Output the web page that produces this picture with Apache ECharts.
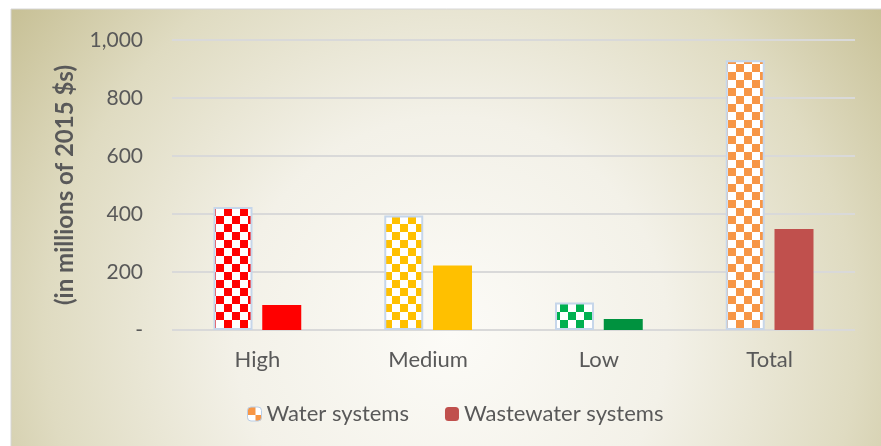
<!DOCTYPE html>
<html>
<head>
<meta charset="utf-8">
<script src="https://cdn.jsdelivr.net/npm/echarts@6/dist/echarts.min.js"></script>
<style>html,body{margin:0;padding:0;background:#fff}#c{width:881px;height:446px}</style>
</head>
<body>
<div id="c"></div>
<script>
var categories = ['High', 'Medium', 'Low', 'Total'];
var waterSystems = [424, 395, 95, 930];
var wastewaterSystems = [86, 222, 38, 348];
var yTickLabels = ['-', '200', '400', '600', '800', '1,000'];
var waterColors = ['#ff0000', '#ffc000', '#00b050', '#f79646'];
var wastewaterColors = ['#ff0000', '#ffc000', '#00923f', '#c0504d'];

function checker(color) {
  var c = document.createElement('canvas');
  c.width = 16; c.height = 16;
  var g = c.getContext('2d');
  g.fillStyle = '#ffffff'; g.fillRect(0, 0, 16, 16);
  g.fillStyle = color;
  g.fillRect(0, 0, 8, 8); g.fillRect(8, 8, 8, 8);
  return { image: c, repeat: 'repeat' };
}

var font = 'Lato';
var chart = echarts.init(document.getElementById('c'));
chart.setOption({
  animation: false,
  graphic: [{
    type: 'rect', z: -10, silent: true,
    shape: { x: 11, y: 9, width: 880, height: 450 },
    style: {
      fill: { type: 'radial', x: 0.5, y: 0.72, r: 1.2, colorStops: [
        { offset: 0, color: '#fcfbf7' },
        { offset: 0.4, color: '#f3f1e8' },
        { offset: 0.75, color: '#dfdbc1' },
        { offset: 1, color: '#c8c197' }
      ] },
      stroke: '#d6d6d6', lineWidth: 1
    }
  }],
  grid: { left: 172, right: 26, top: 40, bottom: 116 },
  legend: {
    bottom: 16, left: 242, itemWidth: 14, itemHeight: 14, itemGap: 36,
    textStyle: { fontFamily: font, fontSize: 22, color: '#595959' },
    data: [
      { name: 'Water systems', itemStyle: { color: checker('#f79646'), borderColor: '#b9cde5', borderWidth: 1 } },
      { name: 'Wastewater systems', itemStyle: { color: '#c0504d' } }
    ]
  },
  xAxis: {
    type: 'category', data: categories,
    axisLine: { show: false }, axisTick: { show: false },
    axisLabel: { fontFamily: font, fontSize: 22, color: '#595959', margin: 19 }
  },
  yAxis: {
    type: 'value', min: 0, max: 1000, interval: 200,
    name: '(in millions of 2015 $s)', nameLocation: 'middle', nameGap: 95,
    nameTextStyle: { fontFamily: font, fontSize: 24, fontWeight: 'bold', color: '#595959' },
    axisLine: { show: false }, axisTick: { show: false },
    splitLine: { lineStyle: { color: '#d9d9d9', width: 2 } },
    axisLabel: {
      fontFamily: font, fontSize: 21, color: '#595959', margin: 29,
      formatter: function (v) { return yTickLabels[Math.round(v / 200)]; }
    }
  },
  series: [
    {
      name: 'Water systems', type: 'bar', barWidth: 39, barGap: '25%',
      itemStyle: { color: checker('#f79646'), borderColor: '#b9cde5', borderWidth: 2 },
      data: waterSystems.map(function (v, i) {
        return { value: v, itemStyle: { color: checker(waterColors[i]), borderColor: '#c6d6ea', borderWidth: 2 } };
      })
    },
    {
      name: 'Wastewater systems', type: 'bar', barWidth: 39,
      itemStyle: { color: '#c0504d' },
      data: wastewaterSystems.map(function (v, i) {
        return { value: v, itemStyle: { color: wastewaterColors[i] } };
      })
    }
  ]
});
</script>
</body>
</html>
